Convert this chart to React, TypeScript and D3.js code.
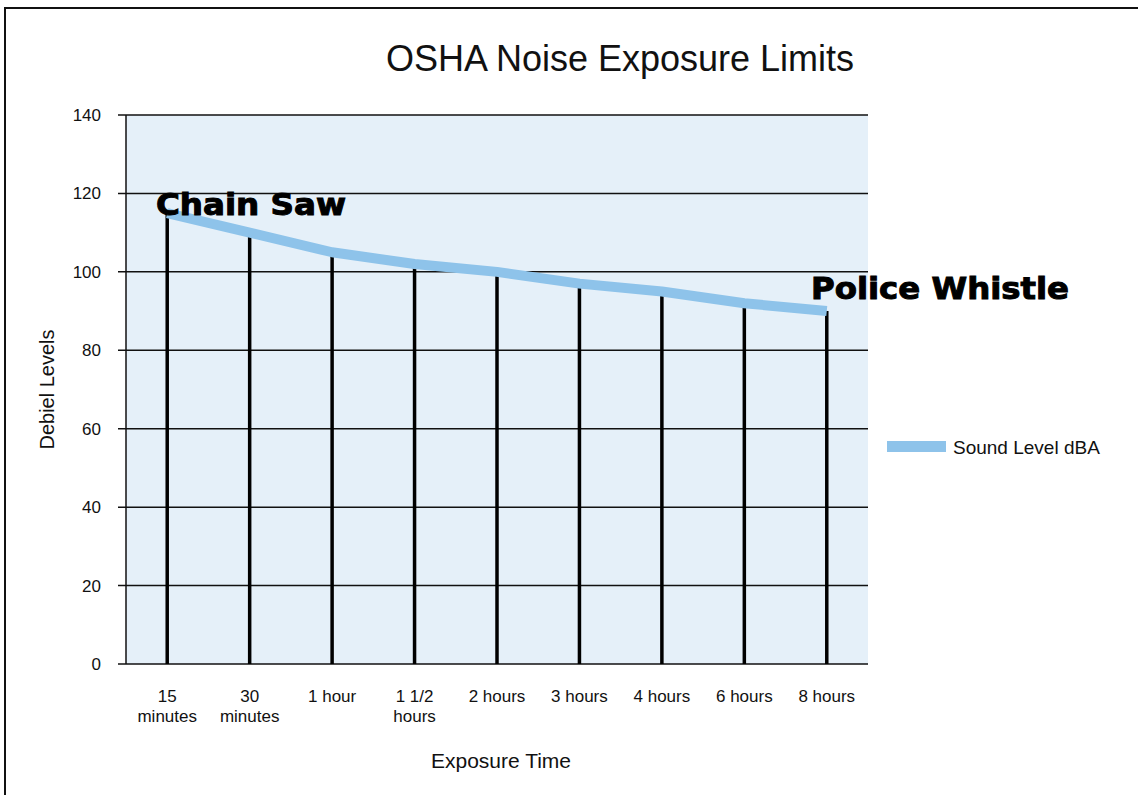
import React, { useRef, useEffect } from 'react';
import * as d3 from 'd3';

const categories = ['15 minutes', '30 minutes', '1 hour', '1 1/2 hours', '2 hours', '3 hours', '4 hours', '6 hours', '8 hours'];
const soundLevels = [115, 110, 105, 102, 100, 97, 95, 92, 90];
const yTicks = [0, 20, 40, 60, 80, 100, 120, 140];
// custom label wraps, as in the picture
const tickLines: Record<string, string[]> = {
  '15 minutes': ['15', 'minutes'],
  '30 minutes': ['30', 'minutes'],
  '1 1/2 hours': ['1 1/2', 'hours'],
};

const App = () => {
  const svgRef = useRef<SVGSVGElement>(null);

  useEffect(() => {
    const svg = d3.select(svgRef.current);
    svg.selectAll('*').remove();

    const width = 1138;
    const height = 795;
    const left = 126, right = 868, top = 115, bottom = 664;
    const font = 'Liberation Sans, Arial, sans-serif';

    // frame (only left and top edges visible)
    svg.append('line').attr('x1', 5).attr('x2', 5).attr('y1', 7).attr('y2', height).attr('stroke', '#111').attr('stroke-width', 2);
    svg.append('line').attr('x1', 4).attr('x2', width).attr('y1', 8).attr('y2', 8).attr('stroke', '#111').attr('stroke-width', 2);

    const x = d3.scaleBand().domain(categories).range([left, right]);
    const y = d3.scaleLinear().domain([0, 140]).range([bottom, top]);

    svg.append('rect')
      .attr('x', left).attr('y', top)
      .attr('width', right - left).attr('height', bottom - top)
      .attr('fill', '#e5f0f9');

    // gridlines + ticks
    svg.append('g')
      .selectAll('line')
      .data(yTicks)
      .join('line')
      .attr('x1', left - 8)
      .attr('x2', right)
      .attr('y1', d => y(d))
      .attr('y2', d => y(d))
      .attr('stroke', '#111')
      .attr('stroke-width', 1.5);

    svg.append('line')
      .attr('x1', left).attr('x2', left)
      .attr('y1', top).attr('y2', bottom)
      .attr('stroke', '#111').attr('stroke-width', 1.5);

    svg.append('g')
      .selectAll('text')
      .data(yTicks)
      .join('text')
      .attr('x', 101)
      .attr('y', d => y(d) + 6)
      .attr('text-anchor', 'end')
      .style('font', `17px ${font}`)
      .attr('fill', '#111')
      .text(d => d);

    const cx = (c: string) => (x(c) as number) + x.bandwidth() / 2;

    // drop lines
    svg.append('g')
      .selectAll('line')
      .data(categories)
      .join('line')
      .attr('x1', d => cx(d))
      .attr('x2', d => cx(d))
      .attr('y1', (d, i) => y(soundLevels[i]))
      .attr('y2', bottom)
      .attr('stroke', '#000')
      .attr('stroke-width', 3.5);

    const pts: [number, number][] = categories.map((c, i) => [cx(c), y(soundLevels[i])]);
    const line = d3.line();
    svg.append('path')
      .attr('d', line(pts))
      .attr('fill', 'none')
      .attr('stroke', '#8ec3ea')
      .attr('stroke-width', 10)
      .attr('stroke-linejoin', 'round');

    // x labels
    const xl = svg.append('g');
    categories.forEach(c => {
      const lines = tickLines[c] || [c];
      const t = xl.append('text')
        .attr('x', cx(c))
        .attr('y', 702)
        .attr('text-anchor', 'middle')
        .style('font', `17px ${font}`)
        .attr('fill', '#111');
      lines.forEach((s, i) => {
        t.append('tspan').attr('x', cx(c)).attr('dy', i === 0 ? 0 : 20).text(s);
      });
    });

    // title & axis titles
    svg.append('text')
      .attr('x', 620).attr('y', 71)
      .attr('text-anchor', 'middle')
      .style('font', `36px ${font}`)
      .attr('fill', '#111')
      .text('OSHA Noise Exposure Limits');

    svg.append('text')
      .attr('transform', `translate(54,${(top + bottom) / 2}) rotate(-90)`)
      .attr('text-anchor', 'middle')
      .style('font', `20px ${font}`)
      .attr('fill', '#111')
      .text('Debiel Levels');

    svg.append('text')
      .attr('x', 501).attr('y', 768)
      .attr('text-anchor', 'middle')
      .style('font', `21px ${font}`)
      .attr('fill', '#111')
      .text('Exposure Time');

    // legend
    svg.append('rect')
      .attr('x', 887).attr('y', 441)
      .attr('width', 59).attr('height', 11)
      .attr('fill', '#8ec3ea');
    svg.append('text')
      .attr('x', 953).attr('y', 454)
      .style('font', `19px ${font}`)
      .attr('fill', '#111')
      .text('Sound Level dBA');

    // annotations
    const anno = `bold 30px 'DejaVu Sans', sans-serif`;
    svg.append('text')
      .attr('x', 156).attr('y', 215)
      .style('font', anno)
      .attr('fill', '#000')
      .attr('stroke', '#000')
      .attr('stroke-width', 1)
      .attr('textLength', 190)
      .attr('lengthAdjust', 'spacingAndGlyphs')
      .text('Chain Saw');
    svg.append('text')
      .attr('x', 811).attr('y', 299)
      .style('font', anno)
      .attr('fill', '#000')
      .attr('stroke', '#000')
      .attr('stroke-width', 1)
      .attr('textLength', 258)
      .attr('lengthAdjust', 'spacingAndGlyphs')
      .text('Police Whistle');
  }, []);

  return (
    <svg
      ref={svgRef}
      width={1138}
      height={795}
      style={{ position: 'absolute', left: 0, top: 0, background: '#fff' }}
    />
  );
};

export default App;
